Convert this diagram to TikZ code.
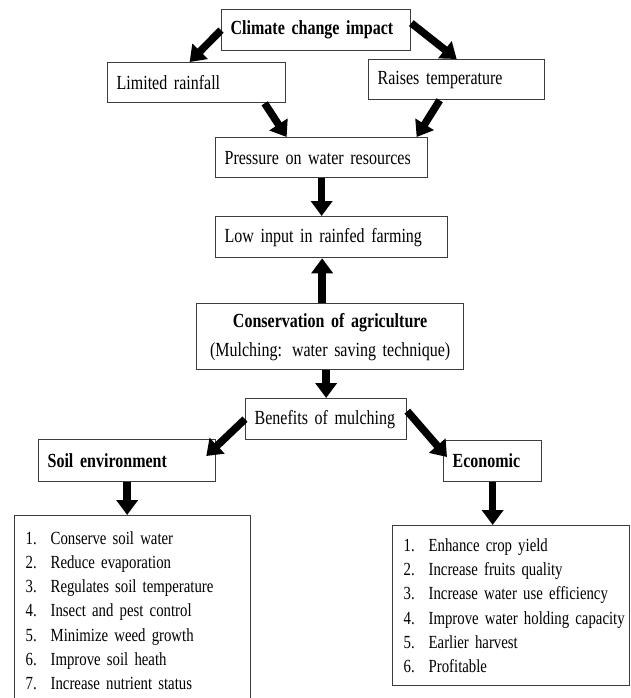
\documentclass[tikz,border=0pt]{standalone}
\usepackage{fontspec}
\setmainfont{Liberation Serif}[FakeStretch=0.8, WordSpace=0.85]
\usetikzlibrary{arrows.meta,positioning,calc}
\definecolor{boxline}{RGB}{60,60,60}
\tikzset{
  box/.style={rectangle, draw=boxline, line width=1.3pt, anchor=north west,
              inner xsep=9pt, inner ysep=0pt, align=left,
              font=\fontsize{20}{24}\selectfont},
  boxbold/.style={box, font=\bfseries\fontsize{20}{24}\selectfont},
  listbox/.style={box, inner xsep=11pt, font=\fontsize{18.5}{24.3}\selectfont},
  fat/.style={-{Triangle[length=15pt,width=21pt]}, line width=7.5pt, black},
}
\newcommand{\entry}[2]{\mbox{\makebox[25pt][l]{#1}#2}}

\begin{document}
\begin{tikzpicture}[x=1pt, y=-1pt]
\useasboundingbox (0,0) rectangle (631,698);
% top part
\node[boxbold, minimum width=189pt, minimum height=41pt, text width=171pt] (clim) at (221,9) {Climate change impact};
\node[box, minimum width=178pt, minimum height=40pt, text width=160pt] (rain) at (107,62) {Limited rainfall};
\node[box, minimum width=176pt, minimum height=40pt, text width=158pt] (temp) at (368,59) {Raises temperature};
\node[box, minimum width=212pt, minimum height=40pt, text width=194pt] (pres) at (215,137) {Pressure on water resources};
\node[box, minimum width=232pt, minimum height=41pt, text width=214pt] (low) at (215,216) {Low input in rainfed farming};
\node[box, align=center, minimum width=267pt, minimum height=66pt, text width=249pt] (cons) at (196,303)
  {\textbf{Conservation of agriculture}\hspace*{16pt}\\[5pt](Mulching: water saving technique)\hspace*{16pt}};
% benefits
\node[box, minimum width=161pt, minimum height=41pt, text width=143pt] (ben) at (245,398) {Benefits of mulching};
\node[boxbold, minimum width=177pt, minimum height=42pt, text width=159pt] (soil) at (38,439) {Soil environment};
\node[boxbold, minimum width=98pt, minimum height=41pt, text width=80pt] (econ) at (443,440) {Economic};
\node[listbox, minimum width=236pt, minimum height=190pt, text width=214pt] (soillist) at (14,515)
  {\entry{1.}{Conserve soil water}\\ \entry{2.}{Reduce evaporation}\\ \entry{3.}{Regulates soil temperature}\\
   \entry{4.}{Insect and pest control}\\ \entry{5.}{Minimize weed growth}\\ \entry{6.}{Improve soil heath}\\
   \entry{7.}{Increase nutrient status}};
\node[listbox, minimum width=237pt, minimum height=160pt, text width=215pt] (econlist) at (392,525)
  {\entry{1.}{Enhance crop yield}\\ \entry{2.}{Increase fruits quality}\\ \entry{3.}{Increase water use efficiency}\\
   \entry{4.}{Improve water holding capacity}\\ \entry{5.}{Earlier harvest}\\ \entry{6.}{Profitable}};
% arrows
\draw[fat] (clim.west) -- ([xshift=-7pt]rain.north);
\draw[fat] ([yshift=7pt]clim.east) -- (temp.north);
\draw[fat] ([xshift=68pt]rain.south) -- ([xshift=-35pt]pres.north);
\draw[fat] ([xshift=-17pt]temp.south) -- ([xshift=95pt]pres.north);
\draw[fat] (pres.south) -- (pres.south |- low.north);
\draw[fat] ([xshift=-8pt]cons.north) -- ([xshift=-8pt]cons.north |- low.south);
\draw[fat] (ben.north |- cons.south) -- (ben.north);
\draw[fat] (ben.west) -- ([xshift=-10pt,yshift=-17pt]soil.north east);
\draw[fat] ([yshift=8pt]ben.east) -- ([xshift=4pt,yshift=-17pt]econ.north west);
\draw[fat] (soil.south) -- (soil.south |- soillist.north);
\draw[fat] (econ.south) -- (econ.south |- econlist.north);
\end{tikzpicture}
\end{document}
